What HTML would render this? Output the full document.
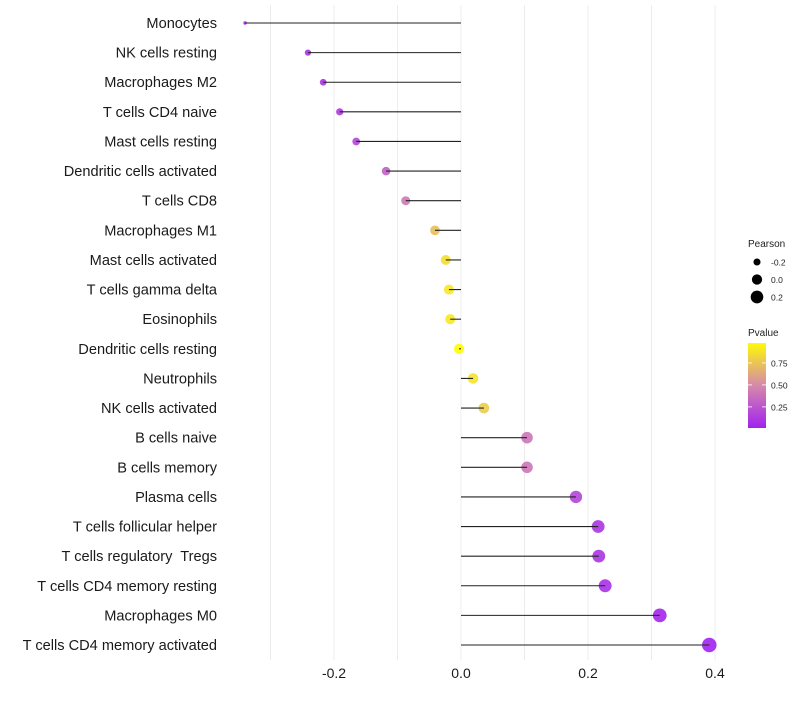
<!DOCTYPE html>
<html><head><meta charset="utf-8"><style>
body{margin:0;background:#fff;font-family:"Liberation Sans",sans-serif}
text{white-space:pre}
</style></head><body>
<svg id="chart" width="800" height="700" xmlns="http://www.w3.org/2000/svg">
<g id="grid"></g><g id="points"></g><g id="marks"></g><g id="labels"></g><g id="legend"></g>
</svg>
<script>
const categories=["Monocytes","NK cells resting","Macrophages M2","T cells CD4 naive","Mast cells resting","Dendritic cells activated","T cells CD8","Macrophages M1","Mast cells activated","T cells gamma delta","Eosinophils","Dendritic cells resting","Neutrophils","NK cells activated","B cells naive","B cells memory","Plasma cells","T cells follicular helper","T cells regulatory  Tregs","T cells CD4 memory resting","Macrophages M0","T cells CD4 memory activated"];
const pearson=[-0.340,-0.241,-0.217,-0.191,-0.165,-0.118,-0.087,-0.041,-0.024,-0.019,-0.017,-0.003,0.019,0.036,0.104,0.104,0.181,0.216,0.217,0.227,0.313,0.391];
const pvalue=[0.03,0.08,0.10,0.13,0.18,0.30,0.42,0.72,0.86,0.90,0.90,0.99,0.88,0.78,0.40,0.40,0.18,0.10,0.10,0.08,0.03,0.01];
const xTicks=[-0.2,0.0,0.2,0.4];
const xTickLabels=["-0.2","0.0","0.2","0.4"];
const sizeLegend=[-0.2,0.0,0.2];
const pTicks=[0.25,0.5,0.75];
const pTickLabels=["0.25","0.50","0.75"];

const NS="http://www.w3.org/2000/svg";
function mk(t,a,p){const e=document.createElementNS(NS,t);for(const k in a)e.setAttribute(k,a[k]);p.appendChild(e);return e;}
const x=v=>461+v*635;
const y=i=>23+i*(622/(categories.length-1));
const pmin=Math.min(...pearson),pmax=Math.max(...pearson);
const r=v=>Math.sqrt(3+50*(v-pmin)/(pmax-pmin));
function col(p){
  const s=[[0,[160,32,240]],[0.5,[214,138,170]],[1,[255,255,0]]];
  p=Math.max(0,Math.min(1,p));
  let a=s[0],b=s[1];if(p>0.5){a=s[1];b=s[2];}
  const t=(p-a[0])/(b[0]-a[0]);
  return "rgb("+a[1].map((c,k)=>Math.round(c+(b[1][k]-c)*t)).join(",")+")";
}
const grid=document.getElementById('grid'),points=document.getElementById('points'),marks=document.getElementById('marks'),labels=document.getElementById('labels'),leg=document.getElementById('legend');
for(let v=-0.3;v<=0.41;v+=0.1){
  const g=mk('line',{x1:x(v),x2:x(v),y1:5,y2:660,stroke:'#ececec','stroke-width':1},grid);
  
  
}
xTicks.forEach((v,i)=>{
  const t=mk('text',{x:x(v),y:678,'text-anchor':'middle','font-size':14,fill:'#1a1a1a'},labels);
  t.textContent=xTickLabels[i];
  
  
});
categories.forEach((c,i)=>{
  const t=mk('text',{x:217,y:y(i)+5,'text-anchor':'end','font-size':14.6,fill:'#1a1a1a'},labels);
  t.textContent=c;
  
  
  const d=mk('circle',{cx:x(pearson[i]),cy:y(i),r:r(pearson[i]),fill:col(pvalue[i]),'fill-opacity':0.9},points);
  
  
  const l=mk('line',{x1:x(0),x2:x(pearson[i]),y1:y(i),y2:y(i),stroke:'#222','stroke-width':1.1},marks);
  
  
});
let t=mk('text',{x:748,y:247,'font-size':10,fill:'#222'},leg);t.textContent='Pearson';


sizeLegend.forEach((v,i)=>{
  const cy=262+i*17.5;
  const c=mk('circle',{cx:757,cy:cy,r:r(v),fill:'#000'},leg);
  
  
  const tt=mk('text',{x:771,y:cy+3.5,'font-size':8.5,fill:'#222'},leg);tt.textContent=sizeLegend[i].toFixed(1);
  
  
});
t=mk('text',{x:748,y:336,'font-size':10,fill:'#222'},leg);t.textContent='Pvalue';


const defs=mk('defs',{},leg);
const lg=mk('linearGradient',{id:'pg',x1:0,y1:1,x2:0,y2:0},defs);
const pTop=0.977,pBot=0.01;
for(let k=0;k<=10;k++){const p=pBot+(pTop-pBot)*k/10;mk('stop',{offset:k/10,'stop-color':col(p)},lg);}
const bar=mk('rect',{x:748,y:343,width:18,height:85,fill:'url(#pg)'},leg);


const py=p=>343+(pTop-p)/(pTop-pBot)*85;
pTicks.forEach((p,i)=>{
  mk('line',{x1:748,x2:752,y1:py(p),y2:py(p),stroke:'#fff','stroke-width':0.8},leg);
  mk('line',{x1:762,x2:766,y1:py(p),y2:py(p),stroke:'#fff','stroke-width':0.8},leg);
  const tt=mk('text',{x:771,y:py(p)+3.5,'font-size':8.5,fill:'#222'},leg);tt.textContent=pTickLabels[i];
  
  
});
</script>
</body></html>
